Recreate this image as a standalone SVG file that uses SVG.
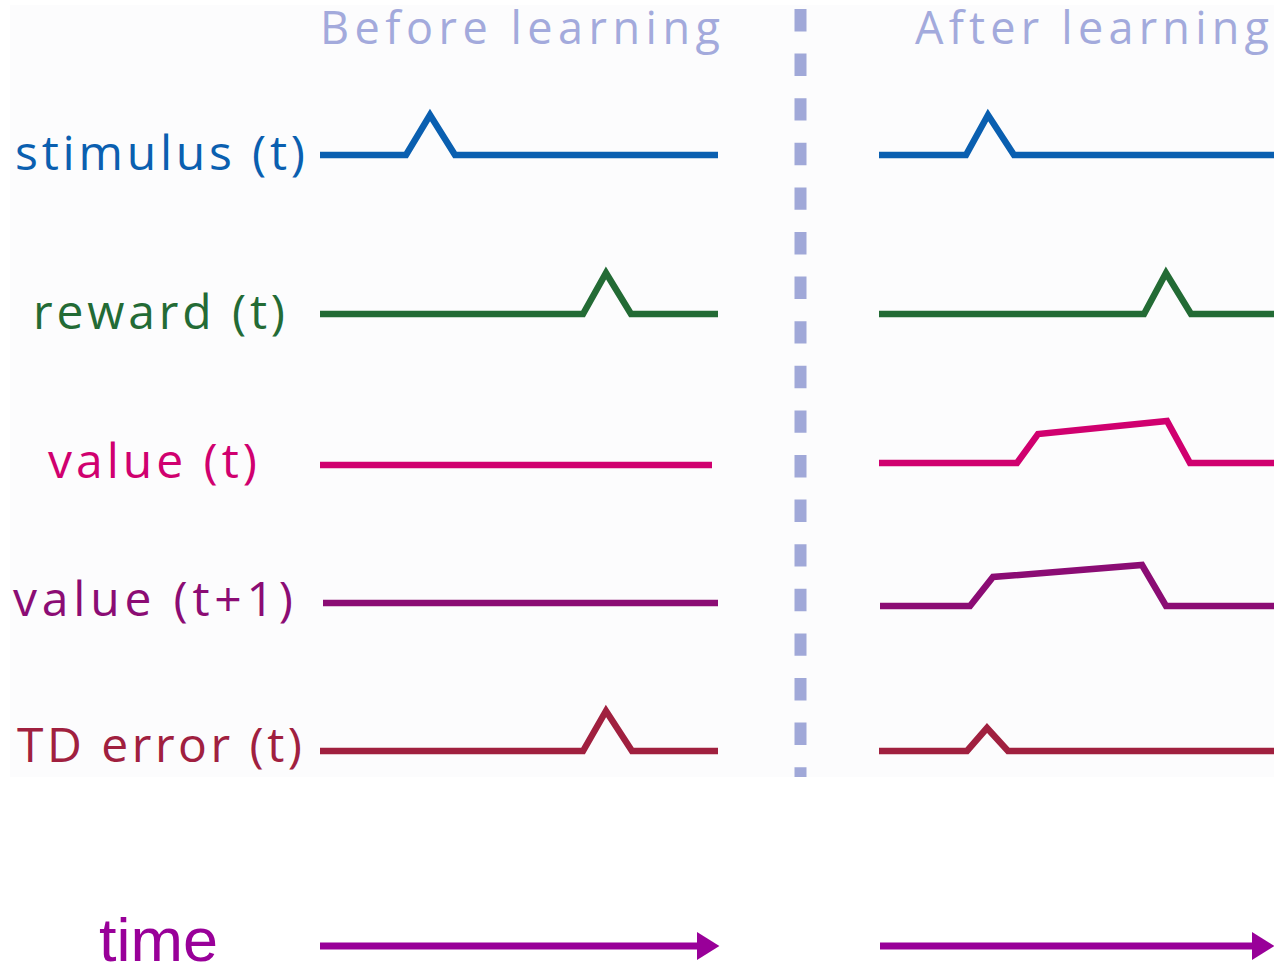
<svg xmlns="http://www.w3.org/2000/svg" width="1274" height="965" viewBox="0 0 1274 965">
<style>
.lbl{font-family:"Open Sans","Noto Sans",sans-serif;font-size:48px}
.ttl{font-family:"Open Sans","Noto Sans",sans-serif;font-size:45px;fill:#a3aadc}
.tr{fill:none;stroke-width:6.5;stroke-linejoin:miter;stroke-linecap:butt}
.time{font-family:"Liberation Sans",Arial,sans-serif;font-size:62px;fill:#990099}
</style>
<defs>
<marker id="ah" markerWidth="4" markerHeight="4" refX="0" refY="2" orient="auto" markerUnits="strokeWidth">
<path d="M0,0 L3.2,2 L0,4 z" fill="#990099"/>
</marker>
</defs>
<rect x="10" y="5" width="1264" height="772" fill="#fcfcfd"/>
<g id="titles">
<text class="ttl" x="320" y="44" textLength="400" lengthAdjust="spacing">Before learning</text>
<text class="ttl" x="915" y="44" textLength="354" lengthAdjust="spacing">After learning</text>
</g>
<g id="divider">
<line x1="800.5" y1="9" x2="800.5" y2="777" stroke="#a0a8d8" stroke-width="12" stroke-dasharray="22.4 22.2"/>
</g>
<g id="stimulus">
<text class="lbl" x="15" y="170" fill="#0a5fb0" textLength="290" lengthAdjust="spacing">stimulus (t)</text>
</g>
<g id="reward">
<text class="lbl" x="33" y="329" fill="#236b35" textLength="252" lengthAdjust="spacing">reward (t)</text>
</g>
<g id="value_t">
<text class="lbl" x="48" y="478" fill="#d0006f" textLength="209" lengthAdjust="spacing">value (t)</text>
</g>
<g id="value_t1">
<text class="lbl" x="13" y="616" fill="#8b0c74" textLength="280" lengthAdjust="spacing">value (t+1)</text>
</g>
<g id="td_error">
<text class="lbl" x="17" y="762" fill="#a0203f" textLength="285" lengthAdjust="spacing">TD error (t)</text>
</g>
<g id="time_label">
<text class="time" x="99" y="961" textLength="119" lengthAdjust="spacingAndGlyphs">time</text>
</g>
<g id="connectors">
<polyline class="tr" stroke="#0a5fb0" points="320,155 406,155 430,115 455,155 718,155"/>
<polyline class="tr" stroke="#0a5fb0" points="879,155 966,155 988,115 1014,155 1274,155"/>
<polyline class="tr" stroke="#236b35" points="320,314 583,314 606,273 631,314 718,314"/>
<polyline class="tr" stroke="#236b35" points="879,314 1144,314 1166,273 1191,314 1274,314"/>
<polyline class="tr" stroke="#d0006f" points="320,465 712,465"/>
<polyline class="tr" stroke="#d0006f" points="879,463 1017,463 1038,434 1167,421 1190,463 1274,463"/>
<polyline class="tr" stroke="#8b0c74" points="323,603 718,603"/>
<polyline class="tr" stroke="#8b0c74" points="880,606 970,606 993,577 1142,565 1166,606 1274,606"/>
<polyline class="tr" stroke="#a0203f" points="320,751 583,751 606,711 632,751 718,751"/>
<polyline class="tr" stroke="#a0203f" points="879,751 967,751 987,728 1008,751 1274,751"/>
<line x1="320" y1="946" x2="697" y2="946" stroke="#990099" stroke-width="7" marker-end="url(#ah)"/>
<line x1="880" y1="946" x2="1252" y2="946" stroke="#990099" stroke-width="7" marker-end="url(#ah)"/>
</g>
</svg>
